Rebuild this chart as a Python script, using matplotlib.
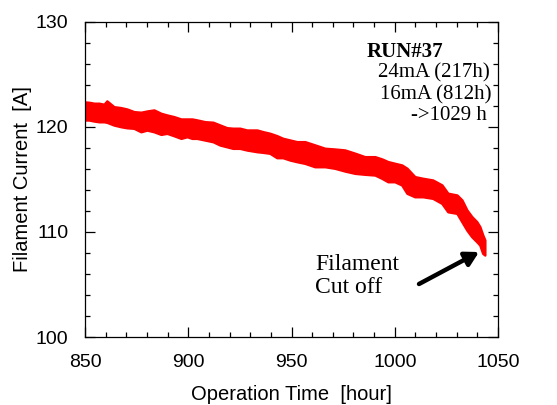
import matplotlib
matplotlib.use("Agg")
import matplotlib.pyplot as plt

# Operation time [hour] and the upper/lower edge of the noisy filament-current trace [A]
hours = [850.0, 851.9, 854.4, 856.8, 859.2, 860.6, 864.0, 867.4, 870.3, 873.7,
         877.1, 880.0, 883.4, 886.8, 889.7, 893.1, 896.5, 899.4, 901.8, 904.2,
         908.1, 912.0, 915.3, 918.7, 921.6, 925.0, 928.4, 933.3, 936.2, 939.5,
         942.9, 945.8, 949.2, 952.6, 956.5, 961.3, 966.2, 971.0, 975.8, 980.7,
         985.5, 990.4, 993.8, 996.7, 1000.0, 1003.4, 1005.9, 1009.7, 1013.6, 1018.4,
         1022.8, 1025.7, 1030.1, 1032.5, 1034.9, 1037.3, 1039.7, 1041.2, 1042.6, 1043.6]
current_upper = [122.38, 122.35, 122.26, 122.26, 122.16, 122.48, 121.93, 121.84, 121.71, 121.46,
                 121.40, 121.52, 121.62, 121.30, 121.14, 120.98, 120.76, 120.76, 120.76, 120.67,
                 120.50, 120.45, 120.19, 119.93, 119.88, 119.88, 119.71, 119.71, 119.55, 119.40,
                 119.17, 118.92, 118.76, 118.60, 118.60, 118.29, 117.97, 117.90, 117.81, 117.50,
                 117.17, 117.17, 116.95, 116.70, 116.54, 116.38, 116.07, 115.27, 115.11, 114.95,
                 114.48, 113.69, 113.52, 113.05, 112.10, 111.46, 110.98, 110.50, 109.71, 109.24]
current_lower = [120.67, 120.67, 120.57, 120.50, 120.50, 120.45, 120.19, 120.03, 119.93, 119.88,
                 119.55, 119.71, 119.55, 119.30, 119.40, 119.17, 118.92, 119.08, 118.92, 118.92,
                 118.76, 118.60, 118.29, 118.12, 117.97, 117.97, 117.81, 117.65, 117.59, 117.50,
                 117.08, 117.08, 116.86, 116.70, 116.54, 116.22, 116.22, 116.07, 115.81, 115.59,
                 115.50, 115.43, 115.11, 114.79, 114.79, 114.48, 113.69, 113.36, 113.36, 113.21,
                 112.73, 111.93, 111.78, 110.98, 110.19, 109.55, 109.08, 108.76, 107.97, 107.81]

x_ticks = [850, 900, 950, 1000, 1050]
y_ticks = [100, 110, 120, 130]

fig = plt.figure(figsize=(5.57, 4.05), dpi=100)
ax = fig.add_axes([0.1526, 0.1679, 0.7415, 0.7778])

ax.fill_between(hours, current_lower, current_upper, color="#ff0000", lw=1.8,
                edgecolor="#ff0000", zorder=2)

ax.set_xlim(850, 1050)
ax.set_ylim(100, 130)
ax.set_xticks(x_ticks)
ax.set_yticks(y_ticks)
ax.set_xticks(range(850, 1051, 10), minor=True)
ax.set_yticks(range(100, 131, 2), minor=True)
ax.tick_params(which="both", direction="in", top=True, right=True, width=0.9, colors="black")
ax.tick_params(which="major", length=7, pad=12, labelsize=14)
ax.tick_params(which="minor", length=3.5)
for lab in ax.get_xticklabels() + ax.get_yticklabels():
    lab.set_fontfamily("Liberation Sans")
for s in ax.spines.values():
    s.set_linewidth(0.9)

ax.set_xlabel("Operation Time  [hour]", fontsize=14.5, family="Liberation Sans", labelpad=10)
ax.set_ylabel("Filament Current  [A]", fontsize=14.5, family="Liberation Sans", labelpad=3)

serif = "Liberation Serif"


def px(xp, yp):
    return ((xp - 85) / 413.0, (337 - yp) / 315.0)


ax.text(*px(367, 51.7), "RUN#37", transform=ax.transAxes, fontsize=15, family=serif,
        fontweight="bold", va="center", ha="left")
ax.text(*px(490, 73.3), "24mA (217h)", transform=ax.transAxes, fontsize=15, family=serif,
        va="center", ha="right")
ax.text(*px(491, 95), "16mA (812h)", transform=ax.transAxes, fontsize=15, family=serif,
        va="center", ha="right")
ax.text(*px(487, 115.5), "->1029 h", transform=ax.transAxes, fontsize=15, family=serif,
        va="center", ha="right")
ax.text(*px(315, 276), "Filament\nCut off", transform=ax.transAxes, fontsize=17,
        family=serif, va="center", ha="left", linespacing=1.1)

ax.annotate("", xy=px(479, 252), xycoords="axes fraction",
            xytext=px(419, 284), textcoords="axes fraction",
            arrowprops=dict(arrowstyle="-|>,head_length=0.8,head_width=0.45",
                            color="black", lw=3.2, shrinkA=0, shrinkB=0))

fig.savefig("out.png", dpi=100)
